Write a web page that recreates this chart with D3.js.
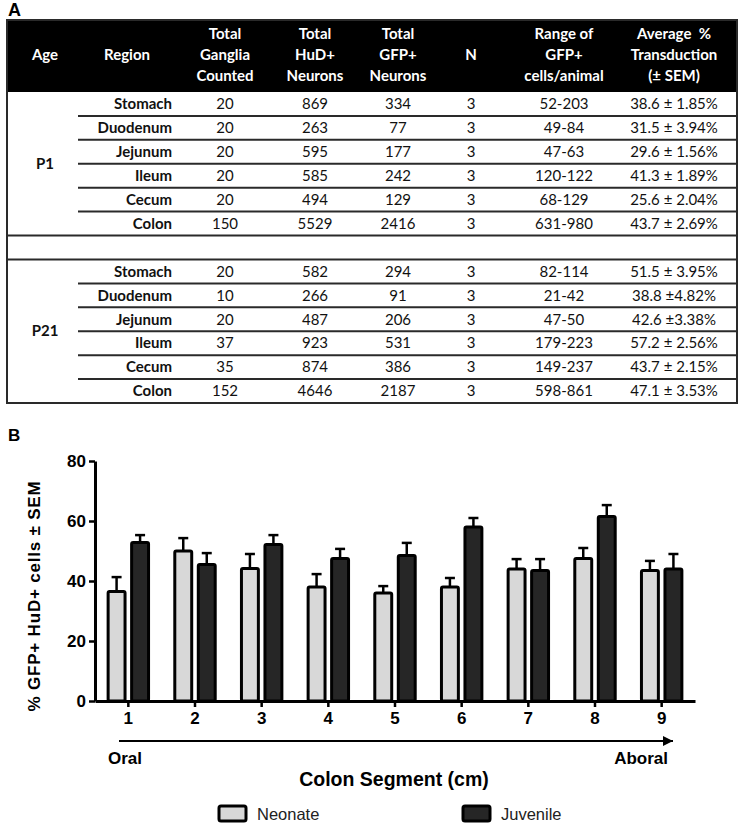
<!DOCTYPE html>
<html>
<head>
<meta charset="utf-8">
<script src="https://cdn.jsdelivr.net/npm/d3@7"></script>
<style>
  html, body { margin: 0; padding: 0; background: #fff; }
  svg { display: block; }
</style>
</head>
<body>
<script>
// ---------------- DATA ----------------
// Panel A (table)
const headerLabels = [
  ["Age"], ["Region"], ["Total", "Ganglia", "Counted"], ["Total", "HuD+", "Neurons"],
  ["Total", "GFP+", "Neurons"], ["N"], ["Range of", "GFP+", "cells/animal"],
  ["Average  %", "Transduction", "(± SEM)"]
];
const ages = ["P1", "P21"];
const regions = ["Stomach", "Duodenum", "Jejunum", "Ileum", "Cecum", "Colon"];
const totalGanglia = [[20, 20, 20, 20, 20, 150], [20, 10, 20, 37, 35, 152]];
const totalHuD = [[869, 263, 595, 585, 494, 5529], [582, 266, 487, 923, 874, 4646]];
const totalGFP = [[334, 77, 177, 242, 129, 2416], [294, 91, 206, 531, 386, 2187]];
const nAnimals = [[3, 3, 3, 3, 3, 3], [3, 3, 3, 3, 3, 3]];
const gfpRange = [
  ["52-203", "49-84", "47-63", "120-122", "68-129", "631-980"],
  ["82-114", "21-42", "47-50", "179-223", "149-237", "598-861"]
];
const avgTransduction = [
  ["38.6 ± 1.85%", "31.5 ± 3.94%", "29.6 ± 1.56%", "41.3 ± 1.89%", "25.6 ± 2.04%", "43.7 ± 2.69%"],
  ["51.5 ± 3.95%", "38.8 ±4.82%", "42.6 ±3.38%", "57.2 ± 2.56%", "43.7 ± 2.15%", "47.1 ± 3.53%"]
];

// Panel B (bar chart)
const segments = ["1", "2", "3", "4", "5", "6", "7", "8", "9"];
const seriesNames = ["Neonate", "Juvenile"];
const neonateMean = [36.5, 50, 44.2, 38, 36, 38, 44, 47.5, 43.5];
const neonateSEM  = [4.8, 4.3, 4.8, 4.3, 2.3, 3, 3.3, 3.5, 3.2];
const juvenileMean = [52.8, 45.5, 52.2, 47.5, 48.5, 58, 43.5, 61.5, 44];
const juvenileSEM  = [2.5, 3.8, 3.1, 3.2, 4.2, 3, 3.8, 3.8, 5];
const yTicks = [0, 20, 40, 60, 80];

// ---------------- SETUP ----------------
const W = 742, H = 829;
const svg = d3.select("body").append("svg").attr("width", W).attr("height", H);

const tableFont = "Lato, 'Open Sans', sans-serif";
const chartFont = "'Liberation Sans', Arial, sans-serif";

// Panel labels
svg.append("text").attr("x", 8).attr("y", 16).text("A")
  .attr("font-family", chartFont).attr("font-weight", "bold").attr("font-size", 18);
svg.append("text").attr("x", 8).attr("y", 441).text("B")
  .attr("font-family", chartFont).attr("font-weight", "bold").attr("font-size", 17);

// ---------------- TABLE ----------------
const tLeft = 7, tRight = 737, tTop = 20, headBottom = 92, tBottom = 403;
const colCenters = [45, 127, 225, 315, 398, 471, 564, 674];
const regionRight = 172;
const colKeys = d3.range(headerLabels.length);
const colX = d3.scaleOrdinal().domain(colKeys).range(colCenters);

const rowKeys = [];
ages.forEach((a, gi) => {
  regions.forEach((r) => rowKeys.push(a + "|" + r));
  if (gi < ages.length - 1) rowKeys.push("spacer");
});
const rowY = d3.scaleBand().domain(rowKeys).range([headBottom, tBottom]);

const table = svg.append("g");
table.append("rect").attr("x", tLeft).attr("y", tTop)
  .attr("width", tRight - tLeft).attr("height", headBottom - tTop).attr("fill", "#000");

const headLineY = d3.scalePoint().domain([0, 1, 2]).range([34, 76]);
headerLabels.forEach((lines, ci) => {
  const t = table.append("text").attr("text-anchor", "middle")
    .attr("font-family", tableFont).attr("font-weight", "bold").attr("font-size", 15)
    .attr("fill", "#fff");
  lines.forEach((ln, li) => {
    const yy = lines.length === 1 ? 55 : headLineY(li);
    t.append("tspan").attr("x", colX(ci)).attr("y", yy).attr("dy", "0.35em")
      .attr("xml:space", "preserve").text(ln);
  });
});

ages.forEach((age, gi) => {
  const keys = regions.map(r => age + "|" + r);
  const gTop = rowY(keys[0]);
  const gBot = rowY(keys[keys.length - 1]) + rowY.bandwidth();
  table.append("text").attr("x", colX(0)).attr("y", (gTop + gBot) / 2).attr("dy", "0.35em")
    .attr("text-anchor", "middle").attr("font-family", tableFont)
    .attr("font-weight", "bold").attr("font-size", 15).attr("fill", "#111").text(age);

  regions.forEach((reg, ri) => {
    const cy = rowY(keys[ri]) + rowY.bandwidth() / 2;
    table.append("text").attr("x", regionRight).attr("y", cy).attr("dy", "0.35em")
      .attr("text-anchor", "end").attr("font-family", tableFont)
      .attr("font-weight", "bold").attr("font-size", 15).attr("fill", "#111").text(reg);
    const vals = [totalGanglia[gi][ri], totalHuD[gi][ri], totalGFP[gi][ri],
                  nAnimals[gi][ri], gfpRange[gi][ri], avgTransduction[gi][ri]];
    vals.forEach((v, vi) => {
      table.append("text").attr("x", colX(vi + 2)).attr("y", cy).attr("dy", "0.35em")
        .attr("text-anchor", "middle").attr("font-family", tableFont)
        .attr("font-size", 15).attr("fill", "#111").text(v);
    });
    const ly = rowY(keys[ri]) + rowY.bandwidth();
    const last = ri === regions.length - 1;
    if (!(last && gi === ages.length - 1)) {
      table.append("line")
        .attr("x1", last ? tLeft : 78).attr("x2", tRight)
        .attr("y1", ly).attr("y2", ly)
        .attr("stroke", "#2a2a2a").attr("stroke-width", 2);
    }
  });
  if (gi < ages.length - 1) {
    const ly = rowY("spacer") + rowY.bandwidth();
    table.append("line").attr("x1", tLeft).attr("x2", tRight).attr("y1", ly).attr("y2", ly)
      .attr("stroke", "#2a2a2a").attr("stroke-width", 2);
  }
});
table.append("rect").attr("x", tLeft).attr("y", tTop)
  .attr("width", tRight - tLeft).attr("height", tBottom - tTop)
  .attr("fill", "none").attr("stroke", "#2a2a2a").attr("stroke-width", 2);

// ---------------- BAR CHART ----------------
const x0 = d3.scaleBand().domain(segments).range([95, 695]);
const x1 = d3.scaleBand().domain(seriesNames).range([-23.5, 23.5])
  .paddingInner(0.28).paddingOuter(0.14);
const y = d3.scaleLinear().domain([0, 80]).range([701, 461]);
const fills = d3.scaleOrdinal().domain(seriesNames).range(["#d8d8d8", "#262626"]);

const barData = [];
segments.forEach((s, i) => {
  barData.push({ seg: s, series: "Neonate", mean: neonateMean[i], sem: neonateSEM[i] });
  barData.push({ seg: s, series: "Juvenile", mean: juvenileMean[i], sem: juvenileSEM[i] });
});
const cx = d => x0(d.seg) + x0.bandwidth() / 2 + x1(d.series) + x1.bandwidth() / 2;

const chart = svg.append("g");
const eb = chart.append("g").selectAll("g").data(barData).join("g");
eb.append("line")
  .attr("x1", cx).attr("x2", cx)
  .attr("y1", d => y(d.mean)).attr("y2", d => y(d.mean + d.sem))
  .attr("stroke", "#000").attr("stroke-width", 2.5);
eb.append("line")
  .attr("x1", d => cx(d) - 5).attr("x2", d => cx(d) + 5)
  .attr("y1", d => y(d.mean + d.sem)).attr("y2", d => y(d.mean + d.sem))
  .attr("stroke", "#000").attr("stroke-width", 2.5);

chart.append("g").selectAll("rect").data(barData).join("rect")
  .attr("x", d => x0(d.seg) + x0.bandwidth() / 2 + x1(d.series))
  .attr("width", x1.bandwidth())
  .attr("y", d => y(d.mean))
  .attr("height", d => y(0) - y(d.mean))
  .attr("fill", d => fills(d.series))
  .attr("stroke", "#000").attr("stroke-width", 3)
  .attr("rx", 1.5);

const yAxis = chart.append("g").attr("transform", "translate(95,0)")
  .call(d3.axisLeft(y).tickValues(yTicks).tickSize(6).tickSizeOuter(0).tickPadding(3));
const xAxis = chart.append("g").attr("transform", "translate(0,701)")
  .call(d3.axisBottom(x0).tickSize(6).tickSizeOuter(0).tickPadding(5));
[yAxis, xAxis].forEach(a => {
  a.select(".domain").attr("stroke", "#000").attr("stroke-width", 3);
  a.selectAll(".tick line").attr("stroke", "#000").attr("stroke-width", 2.5);
  a.selectAll(".tick text").attr("font-family", chartFont).attr("font-weight", "bold")
    .attr("font-size", 17).attr("fill", "#000");
});

svg.append("text")
  .attr("transform", "translate(40,596) rotate(-90)")
  .attr("text-anchor", "middle").attr("font-family", chartFont)
  .attr("font-weight", "bold").attr("font-size", 17).attr("letter-spacing", 0.8)
  .text("% GFP+ HuD+ cells ± SEM");

const defs = svg.append("defs");
defs.append("marker").attr("id", "arrowhead").attr("viewBox", "0 0 10 10")
  .attr("refX", 10).attr("refY", 5).attr("markerWidth", 8).attr("markerHeight", 5)
  .attr("orient", "auto").attr("markerUnits", "strokeWidth")
  .append("path").attr("d", "M0,0 L10,5 L0,10 z").attr("fill", "#000");
svg.append("line").attr("x1", 119).attr("x2", 673).attr("y1", 741).attr("y2", 741)
  .attr("stroke", "#000").attr("stroke-width", 2).attr("marker-end", "url(#arrowhead)");
svg.append("text").attr("x", 108).attr("y", 764).text("Oral")
  .attr("font-family", chartFont).attr("font-weight", "bold").attr("font-size", 17);
svg.append("text").attr("x", 668).attr("y", 764).attr("text-anchor", "end").text("Aboral")
  .attr("font-family", chartFont).attr("font-weight", "bold").attr("font-size", 17);

svg.append("text").attr("x", 394).attr("y", 786).attr("text-anchor", "middle")
  .text("Colon Segment (cm)")
  .attr("font-family", chartFont).attr("font-weight", "bold").attr("font-size", 19.5);

const legX = d3.scaleOrdinal().domain(seriesNames).range([219, 463]);
const leg = svg.append("g").selectAll("g").data(seriesNames).join("g")
  .attr("transform", d => `translate(${legX(d)},806)`);
leg.append("rect").attr("width", 27).attr("height", 15).attr("rx", 2)
  .attr("fill", d => fills(d)).attr("stroke", "#000").attr("stroke-width", 3);
leg.append("text").attr("x", 38).attr("y", 8).attr("dy", "0.35em").text(d => d)
  .attr("font-family", chartFont).attr("font-size", 16.5).attr("fill", "#222");
</script>
</body>
</html>
